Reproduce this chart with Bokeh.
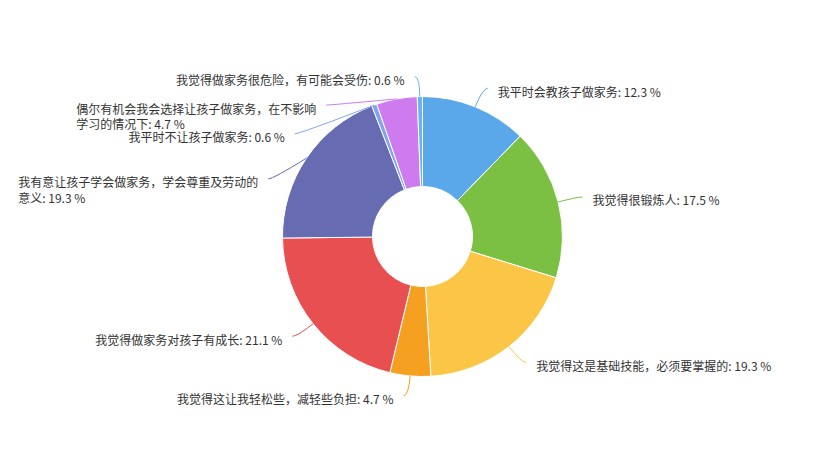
import math
from bokeh.plotting import figure
from bokeh.models import Range1d, ColumnDataSource
from bokeh.core.properties import value
from bokeh.embed import file_html
from bokeh.resources import INLINE

# ---- data ----
categories = [
    "我平时会教孩子做家务",
    "我觉得很锻炼人",
    "我觉得这是基础技能，必须要掌握的",
    "我觉得这让我轻松些，减轻些负担",
    "我觉得做家务对孩子有成长",
    "我有意让孩子学会做家务，学会尊重及劳动的意义",
    "我平时不让孩子做家务",
    "偶尔有机会我会选择让孩子做家务，在不影响学习的情况下",
    "我觉得做家务很危险，有可能会受伤",
]
percents = [12.3, 17.5, 19.3, 4.7, 21.1, 19.3, 0.6, 4.7, 0.6]

# ---- style / layout ----
colors = ["#5aa7ea", "#7bc043", "#fbc646", "#f5a020", "#e84f50",
          "#666bb2", "#7fa4f5", "#cd7bef", "#6cb2ec"]
label_shift = [0, 0, 0, 0, 0, 32, 47.5, 25.8, 0]  # overlap avoidance (px, downward)
R_OUT, R_IN, R_LBL = 140, 50, 160
LEN2, GAP, WRAP, LINE_H = 5, 10, 20, 15.5
TXT_DY = 3
CX, CY = 422, 236  # centre of the donut in the picture

W, H = 798, 449
p = figure(width=W, height=H, output_backend="svg", toolbar_location=None,
           x_range=Range1d(-CX, W - CX), y_range=Range1d(CY - H, CY),
           min_border=0)
p.axis.visible = False
p.grid.visible = False
p.outline_line_color = None

total = sum(percents)
starts, ends, mids = [], [], []
cum = 0.0
for v in percents:
    a0 = cum / total * 360
    cum += v
    a1 = cum / total * 360
    starts.append(math.radians(90 - a1))
    ends.append(math.radians(90 - a0))
    mids.append(math.radians((a0 + a1) / 2))

src = ColumnDataSource(dict(start=starts, end=ends, color=colors))
p.annular_wedge(x=0, y=0, inner_radius=R_IN, outer_radius=R_OUT,
                start_angle="start", end_angle="end", direction="anticlock",
                fill_color="color", line_color="white", line_width=1, source=src)

lines_src = dict(x0=[], y0=[], x1=[], y1=[], cx=[], cy=[], color=[])
r_lab = dict(x=[], y=[], text=[])
l_lab = dict(x=[], y=[], text=[])
for i, (name, v) in enumerate(zip(categories, percents)):
    th = mids[i]
    side = 1 if math.sin(th) > 1e-9 else -1
    x0, y0 = R_OUT * math.sin(th), R_OUT * math.cos(th)
    x1, y1 = R_LBL * math.sin(th), R_LBL * math.cos(th)
    if label_shift[i]:
        y1 -= label_shift[i]
        x1 = side * math.sqrt(max(R_LBL ** 2 - y1 ** 2, 0))
    x2 = x1 + side * LEN2
    lines_src["x0"].append(x0)
    lines_src["y0"].append(y0)
    lines_src["x1"].append(x2)
    lines_src["y1"].append(y1)
    lines_src["cx"].append(x1)
    lines_src["cy"].append(y1)
    lines_src["color"].append(colors[i])
    full = f"{name}: {v} %"
    if len(name) > WRAP:
        lines = [full[:WRAP], full[WRAP:]]
    else:
        lines = [full]
    ty = y1 - TXT_DY
    if side > 0:
        for k, ln in enumerate(lines):
            r_lab["x"].append(x2 + GAP)
            r_lab["y"].append(ty - k * LINE_H)
            r_lab["text"].append(ln)
    else:
        if len(lines) == 1:
            l_lab["x"].append(x2 - GAP)
            l_lab["y"].append(ty)
            l_lab["text"].append(lines[0])
        else:
            left = x2 - GAP - 12 * len(lines[0])
            for k, ln in enumerate(lines):
                r_lab["x"].append(left)
                r_lab["y"].append(ty - k * LINE_H)
                r_lab["text"].append(ln)

p.quadratic(x0="x0", y0="y0", x1="x1", y1="y1", cx="cx", cy="cy",
            line_color="color", line_width=1, source=ColumnDataSource(lines_src))

font = value("Noto Sans CJK SC")
p.text(x="x", y="y", text="text", source=ColumnDataSource(r_lab),
       text_font=font, text_font_size="12px", text_color="#333333",
       text_align="left", text_baseline="middle")
p.text(x="x", y="y", text="text", source=ColumnDataSource(l_lab),
       text_font=font, text_font_size="12px", text_color="#333333",
       text_align="right", text_baseline="middle")

open("out.html", "w").write(file_html(p, INLINE))
